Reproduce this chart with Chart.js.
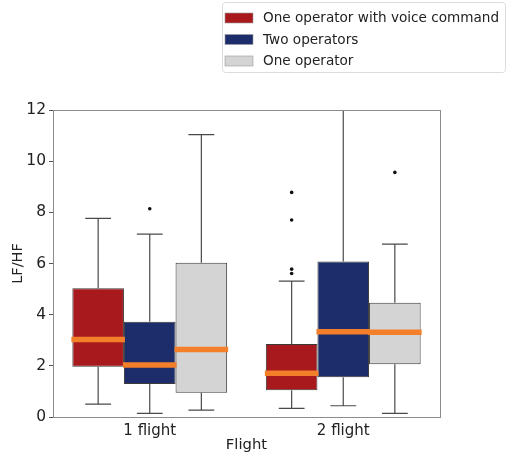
<!DOCTYPE html>
<html>
<head>
<meta charset="utf-8">
<script src="https://cdn.jsdelivr.net/npm/chart.js@4.4.1/dist/chart.umd.min.js"></script>
<style>
  html, body { margin: 0; padding: 0; background: #ffffff; }
  #wrap { width: 507px; height: 455px; position: relative; }
</style>
</head>
<body>
<div id="wrap"><canvas id="c" width="507" height="455"></canvas></div>
<script>
// Categories and series
const categories = ['1 flight', '2 flight'];
const seriesNames = ['One operator with voice command', 'Two operators', 'One operator'];
const seriesColors = ['#a8191d', '#1d2d6b', '#d4d4d4'];

// Box statistics per series: [1 flight, 2 flight]
const voiceLow  = [0.50, 0.34];
const voiceQ1   = [1.96, 1.05];
const voiceMed  = [3.03, 1.71];
const voiceQ3   = [5.03, 2.85];
const voiceHigh = [7.76, 5.31];
const voiceFliers = [[], [8.78, 7.70, 5.78, 5.61]];

const twoLow  = [0.14, 0.44];
const twoQ1   = [1.29, 1.55];
const twoMed  = [2.03, 3.33];
const twoQ3   = [3.72, 6.08];
const twoHigh = [7.15, 13.0];
const twoFliers = [[8.14], []];

const oneLow  = [0.27, 0.14];
const oneQ1   = [0.95, 2.06];
const oneMed  = [2.64, 3.31];
const oneQ3   = [6.03, 4.47];
const oneHigh = [11.04, 6.76];
const oneFliers = [[], [9.56]];

const yTicks = [0, 2, 4, 6, 8, 10, 12];

const FONT = "'DejaVu Sans', sans-serif";

function makeSeries(idx, low, q1, med, q3, high, fliers) {
  return {
    label: seriesNames[idx],
    data: categories.map((c, i) => [q1[i], q3[i]]),
    backgroundColor: seriesColors[idx],
    borderColor: '#3a3a3a',
    borderWidth: 1,
    borderSkipped: false,
    stats: { low, med, high, fliers }
  };
}

const datasets = [
  makeSeries(0, voiceLow, voiceQ1, voiceMed, voiceQ3, voiceHigh, voiceFliers),
  makeSeries(1, twoLow, twoQ1, twoMed, twoQ3, twoHigh, twoFliers),
  makeSeries(2, oneLow, oneQ1, oneMed, oneQ3, oneHigh, oneFliers)
];

// Whiskers, caps, medians and outliers drawn on top of the boxes
const boxExtras = {
  id: 'boxExtras',
  afterDatasetsDraw(chart) {
    const ctx = chart.ctx;
    const y = chart.scales.y;
    const area = chart.chartArea;
    ctx.save();
    ctx.beginPath();
    ctx.rect(area.left, area.top, area.right - area.left, area.bottom - area.top);
    ctx.clip();
    chart.data.datasets.forEach((ds, di) => {
      const meta = chart.getDatasetMeta(di);
      meta.data.forEach((bar, i) => {
        const cx = bar.x;
        const w = bar.width;
        const q1 = ds.data[i][0], q3 = ds.data[i][1];
        const st = ds.stats;
        ctx.strokeStyle = '#4a4a4a';
        ctx.lineWidth = 1.2;
        // whiskers
        ctx.beginPath();
        ctx.moveTo(cx, y.getPixelForValue(q3));
        ctx.lineTo(cx, y.getPixelForValue(st.high[i]));
        ctx.moveTo(cx, y.getPixelForValue(q1));
        ctx.lineTo(cx, y.getPixelForValue(st.low[i]));
        // caps
        const yh = y.getPixelForValue(st.high[i]);
        const yl = y.getPixelForValue(st.low[i]);
        ctx.moveTo(cx - w / 4, yh); ctx.lineTo(cx + w / 4, yh);
        ctx.moveTo(cx - w / 4, yl); ctx.lineTo(cx + w / 4, yl);
        ctx.stroke();
        // median
        ctx.strokeStyle = '#f37f2a';
        ctx.lineWidth = 5.5;
        const ym = y.getPixelForValue(st.med[i]);
        ctx.beginPath();
        ctx.moveTo(cx - w / 2 - 1, ym);
        ctx.lineTo(cx + w / 2 + 1, ym);
        ctx.stroke();
        // outliers
        ctx.fillStyle = '#111111';
        st.fliers[i].forEach(v => {
          ctx.beginPath();
          ctx.arc(cx, y.getPixelForValue(v), 1.8, 0, Math.PI * 2);
          ctx.fill();
        });
      });
    });
    ctx.restore();
    // frame around the plot area
    ctx.save();
    ctx.strokeStyle = '#8c8c8c';
    ctx.lineWidth = 1;
    ctx.strokeRect(Math.round(area.left) + 0.5, Math.round(area.top) + 0.5,
      Math.round(area.right - area.left), Math.round(area.bottom - area.top));
    ctx.restore();
  }
};

// Boxed legend in the upper right corner
const boxLegend = {
  id: 'boxLegend',
  afterDraw(chart) {
    const ctx = chart.ctx;
    ctx.save();
    const lx = 222.5, ly = 2.5, lw = 283, lh = 70;
    ctx.strokeStyle = '#dcdcdc';
    ctx.lineWidth = 1;
    ctx.beginPath();
    ctx.roundRect(lx, ly, lw, lh, 3);
    ctx.stroke();
    ctx.font = '13.6px ' + FONT;
    ctx.textBaseline = 'middle';
    chart.data.datasets.forEach((ds, i) => {
      const cy = 18 + i * 21.5;
      ctx.fillStyle = ds.backgroundColor;
      ctx.fillRect(225, cy - 5, 28, 10);
      ctx.strokeStyle = '#9a9a9a';
      ctx.lineWidth = 0.6;
      ctx.strokeRect(225, cy - 5, 28, 10);
      ctx.fillStyle = '#222222';
      ctx.fillText(ds.label, 263, cy + 0.5);
    });
    ctx.restore();
  }
};

new Chart(document.getElementById('c'), {
  type: 'bar',
  data: { labels: categories, datasets },
  options: {
    responsive: false,
    animation: false,
    layout: { padding: { top: 110, right: 67, left: 0, bottom: 0 } },
    plugins: { legend: { display: false }, tooltip: { enabled: false } },
    datasets: { bar: { categoryPercentage: 0.8, barPercentage: 1.0, grouped: true } },
    scales: {
      x: {
        grid: { display: false, drawTicks: true, tickLength: 4 },
        border: { display: false },
        ticks: { color: '#222222', font: { family: FONT, size: 15 }, padding: 1 },
        title: { display: true, text: 'Flight', color: '#222222', font: { family: FONT, size: 14.8 }, padding: { top: 0, bottom: 1 } },
        afterFit(scale) { scale.height = 38; }
      },
      y: {
        min: 0,
        max: 12,
        afterBuildTicks(scale) { scale.ticks = yTicks.map(v => ({ value: v })); },
        grid: { drawOnChartArea: false, drawTicks: true, tickLength: 4, color: '#555555' },
        border: { display: false },
        ticks: { color: '#222222', font: { family: FONT, size: 15.5 }, padding: 3 },
        title: { display: true, text: 'LF/HF', color: '#222222', font: { family: FONT, size: 14.5 }, padding: { top: 10, bottom: 4 } },
        afterFit(scale) { scale.width = 53; }
      }
    }
  },
  plugins: [boxExtras, boxLegend]
});
</script>
</body>
</html>
